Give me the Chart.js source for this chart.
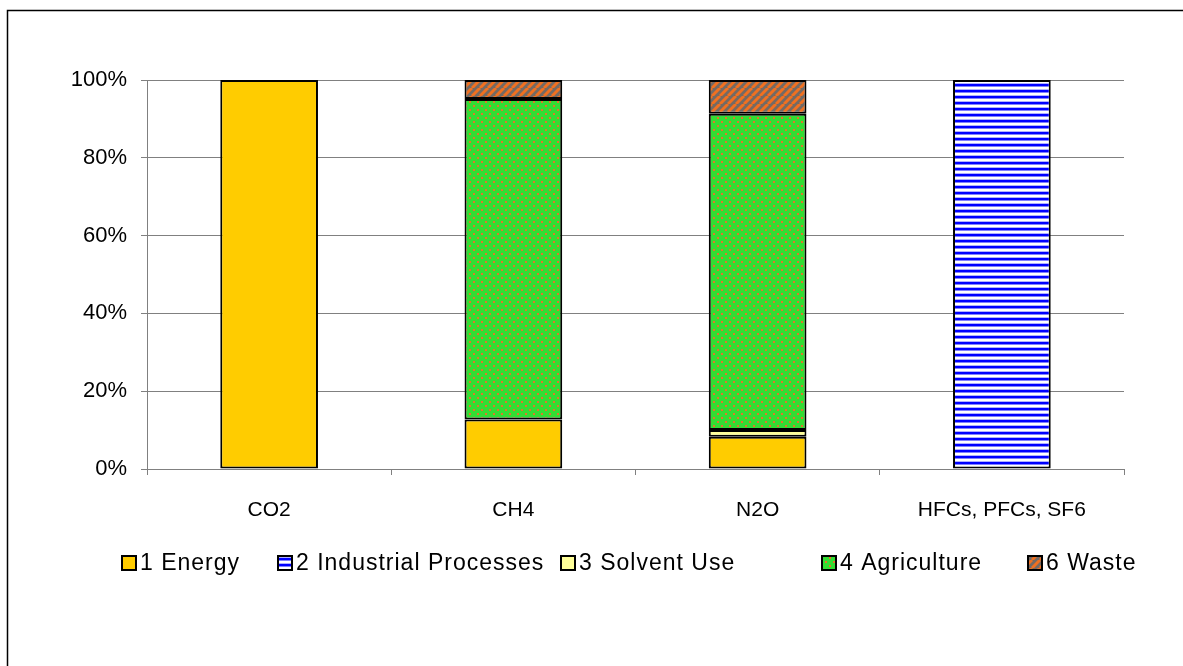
<!DOCTYPE html>
<html>
<head>
<meta charset="utf-8">
<script src="https://cdn.jsdelivr.net/npm/chart.js@4.4.1/dist/chart.umd.min.js"></script>
<style>
  html, body { margin: 0; padding: 0; background: #fff; }
  #wrap { width: 1183px; height: 666px; position: relative; }
</style>
</head>
<body>
<div id="wrap"><canvas id="chart" width="1183" height="666"></canvas></div>
<script>
// categories and series (share of each gas, %)
const categories = ['CO2', 'CH4', 'N2O', 'HFCs, PFCs, SF6'];
const energy      = [100, 12.7, 8.3, null];
const industrial  = [null, null, null, 100];
const solvent     = [null, null, 1.7, null];
const agriculture = [null, 82.4, 81.3, null];
const waste       = [null, 4.9, 8.7, null];
const yTicks = [0, 20, 40, 60, 80, 100];

const FONT = 'Liberation Sans, Arial, sans-serif';

function makePattern(size, draw) {
  const c = document.createElement('canvas');
  c.width = size[0]; c.height = size[1];
  const g = c.getContext('2d');
  draw(g);
  return g.createPattern(c, 'repeat');
}

// horizontal blue stripes
const stripes = makePattern([6, 6], g => {
  g.fillStyle = '#fff'; g.fillRect(0, 0, 6, 6);
  g.fillStyle = '#0000ff'; g.fillRect(0, 0, 6, 2);
  g.fillStyle = '#8080ff'; g.fillRect(0, 2, 6, 1);
  g.fillStyle = '#b0b0ff'; g.fillRect(0, 5, 6, 1);
});
// green with orange dots
const dots = makePattern([8, 8], g => {
  g.fillStyle = '#33dd33'; g.fillRect(0, 0, 8, 8);
  g.fillStyle = '#e0782a';
  g.fillRect(1, 1, 2, 2);
  g.fillRect(5, 5, 2, 2);
});
// diagonal orange / grey stripes
const diag = makePattern([8, 8], g => {
  g.fillStyle = '#746a64'; g.fillRect(0, 0, 8, 8);
  g.strokeStyle = '#f07020'; g.lineWidth = 3;
  for (let k = -8; k <= 16; k += 8) {
    g.beginPath(); g.moveTo(k, 8); g.lineTo(k + 8, 0); g.stroke();
  }
});

const frame = {
  id: 'frame',
  beforeDraw(chart) {
    const ctx = chart.ctx;
    ctx.save();
    ctx.fillStyle = '#fff';
    ctx.fillRect(0, 0, chart.width, chart.height);
    ctx.strokeStyle = '#000'; ctx.lineWidth = 1.5;
    ctx.strokeRect(7.5, 10.5, 1400, 900);
    ctx.restore();
  }
};

const legendBoxes = {
  id: 'legendBoxes',
  afterDraw(chart, args, opts) {
    const ctx = chart.ctx;
    ctx.save();
    ctx.font = opts.fontSize + 'px ' + FONT;
    ctx.letterSpacing = opts.spacing + 'px';
    ctx.textBaseline = 'middle';
    chart.data.datasets.forEach((ds, i) => {
      const x = opts.starts[i], y = opts.y;
      ctx.fillStyle = ds.backgroundColor;
      ctx.fillRect(x, y - 7, 14, 14);
      ctx.strokeStyle = '#000'; ctx.lineWidth = 2;
      ctx.strokeRect(x, y - 7, 14, 14);
      ctx.fillStyle = '#000';
      ctx.fillText(ds.label, x + 18, y + 1);
    });
    ctx.restore();
  }
};

const mk = (label, data, bg) => ({
  label, data, backgroundColor: bg,
  borderColor: '#000', borderWidth: 2, borderSkipped: false
});

new Chart(document.getElementById('chart'), {
  type: 'bar',
  data: {
    labels: categories,
    datasets: [
      mk('1 Energy', energy, '#ffcc00'),
      mk('2 Industrial Processes', industrial, stripes),
      mk('3 Solvent Use', solvent, '#ffff99'),
      mk('4 Agriculture', agriculture, dots),
      mk('6 Waste', waste, diag)
    ]
  },
  options: {
    responsive: false,
    animation: false,
    categoryPercentage: 1,
    barPercentage: 0.4,
    layout: { padding: { left: 0, top: 80, right: 59, bottom: 0 } },
    plugins: {
      legend: { display: false },
      tooltip: { enabled: false },
      legendBoxes: { y: 563, fontSize: 23, spacing: 1, starts: [122, 278, 561, 822, 1028] }
    },
    scales: {
      x: {
        stacked: true,
        afterFit: s => { s.height = 197; },
        grid: { drawOnChartArea: false, color: '#808080', tickLength: 6, offset: true },
        border: { color: '#808080', width: 1 },
        ticks: { color: '#000', font: { family: FONT, size: 21 }, padding: 23 }
      },
      y: {
        stacked: true,
        min: 0, max: 100,
        afterFit: s => { s.width = 147; },
        afterBuildTicks: s => { s.ticks = yTicks.map(v => ({ value: v })); },
        grid: { color: '#808080', tickLength: 6 },
        border: { color: '#808080', width: 1 },
        ticks: { color: '#000', font: { family: FONT, size: 22 }, padding: 14,
                 callback: v => v + '%' }
      }
    }
  },
  plugins: [frame, legendBoxes]
});
</script>
</body>
</html>
